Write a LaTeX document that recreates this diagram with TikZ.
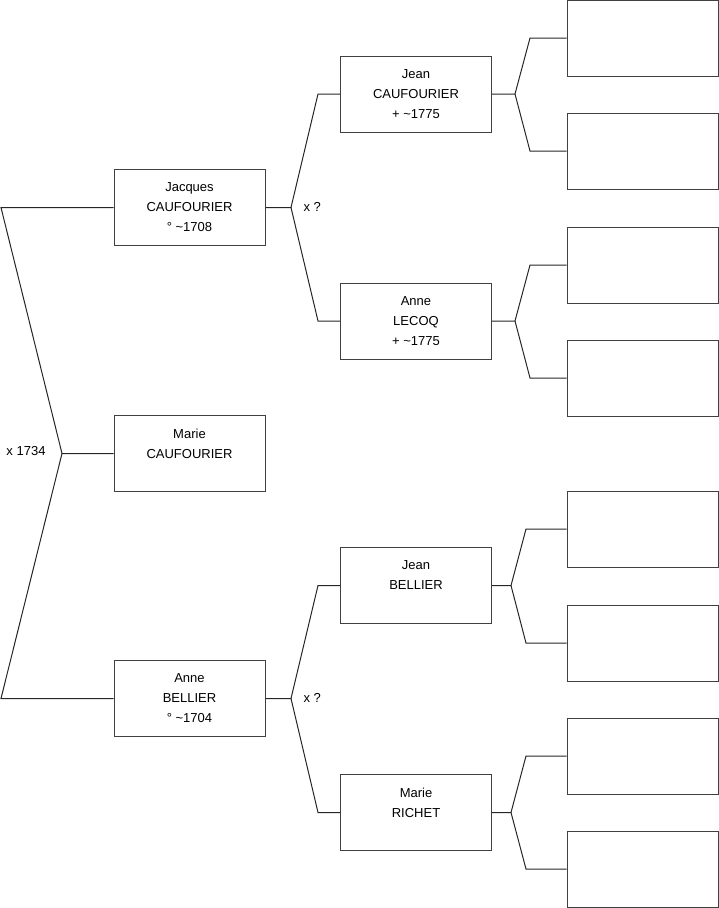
\documentclass[tikz,border=0pt]{standalone}
\usepackage{fontspec}
\setmainfont{Liberation Sans}
\begin{document}
\begin{tikzpicture}[x=1pt,y=-1pt,
  line width=1pt,
  conn/.style={draw=black!85},
  person/.style={draw=black!75, minimum width=151pt, minimum height=76pt, inner sep=0pt, align=center, font=\fontsize{13}{20}\selectfont},
  empty/.style={draw=black!75, minimum width=151pt, minimum height=76pt, inner sep=0pt},
  lbl/.style={font=\fontsize{13}{20}\selectfont, inner sep=0pt}]
\useasboundingbox (0,0) rectangle (719,908);
% generation 1
\node[person] (J) at (189.5,207.5) {Jacques\\CAUFOURIER\\° \textasciitilde1708};
\node[person] (M) at (189.5,453.5) {Marie\\CAUFOURIER\\\mbox{}};
\node[person] (A) at (189.5,698.5) {Anne\\BELLIER\\° \textasciitilde1704};
% generation 2
\node[person] (JC) at (416,94) {Jean\\CAUFOURIER\\+ \textasciitilde1775};
\node[person] (AL) at (416,321) {Anne\\LECOQ\\+ \textasciitilde1775};
\node[person] (JB) at (416,585.5) {Jean\\BELLIER\\\mbox{}};
\node[person] (MR) at (416,812.5) {Marie\\RICHET\\\mbox{}};
% generation 3
\node[empty] (r1) at (642.5,38) {};
\node[empty] (r2) at (642.5,151) {};
\node[empty] (r3) at (642.5,265) {};
\node[empty] (r4) at (642.5,378) {};
\node[empty] (r5) at (642.5,529) {};
\node[empty] (r6) at (642.5,643) {};
\node[empty] (r7) at (642.5,756) {};
\node[empty] (r8) at (642.5,869) {};
% left connector
\coordinate (a1) at (1,207.5);
\coordinate (a0) at (62,453.5);
\coordinate (a2) at (1,698.5);
\draw[conn] (J.west) -- (a1) -- (a0) -- (M.west);
\draw[conn] (a0) -- (a2) -- (A.west);
\node[lbl] (m0) at (26,451) {x 1734};
% Jacques
\coordinate (b0) at (291,207.5);
\coordinate (b1) at (318,94);
\coordinate (b2) at (318,321);
\draw[conn] (J.east) -- (b0) -- (b1) -- (JC.west);
\draw[conn] (b0) -- (b2) -- (AL.west);
\node[lbl, anchor=west] (m1) at (303,207) {x ?};
% Anne BELLIER
\coordinate (c0) at (291,698.5);
\coordinate (c1) at (318,585.5);
\coordinate (c2) at (318,812.5);
\draw[conn] (A.east) -- (c0) -- (c1) -- (JB.west);
\draw[conn] (c0) -- (c2) -- (MR.west);
\node[lbl, anchor=west] (m2) at (303,698) {x ?};
% Jean CAUFOURIER
\coordinate (d0) at (515,94);
\coordinate (d1) at (530,38);
\coordinate (d2) at (530,151);
\draw[conn] (JC.east) -- (d0) -- (d1) -- (r1.west);
\draw[conn] (d0) -- (d2) -- (r2.west);
% Anne LECOQ
\coordinate (e0) at (515,321);
\coordinate (e1) at (530,265);
\coordinate (e2) at (530,378);
\draw[conn] (AL.east) -- (e0) -- (e1) -- (r3.west);
\draw[conn] (e0) -- (e2) -- (r4.west);
% Jean BELLIER
\coordinate (f0) at (511,585.5);
\coordinate (f1) at (526,529);
\coordinate (f2) at (526,643);
\draw[conn] (JB.east) -- (f0) -- (f1) -- (r5.west);
\draw[conn] (f0) -- (f2) -- (r6.west);
% Marie RICHET
\coordinate (g0) at (511,812.5);
\coordinate (g1) at (526,756);
\coordinate (g2) at (526,869);
\draw[conn] (MR.east) -- (g0) -- (g1) -- (r7.west);
\draw[conn] (g0) -- (g2) -- (r8.west);
\end{tikzpicture}
\end{document}
